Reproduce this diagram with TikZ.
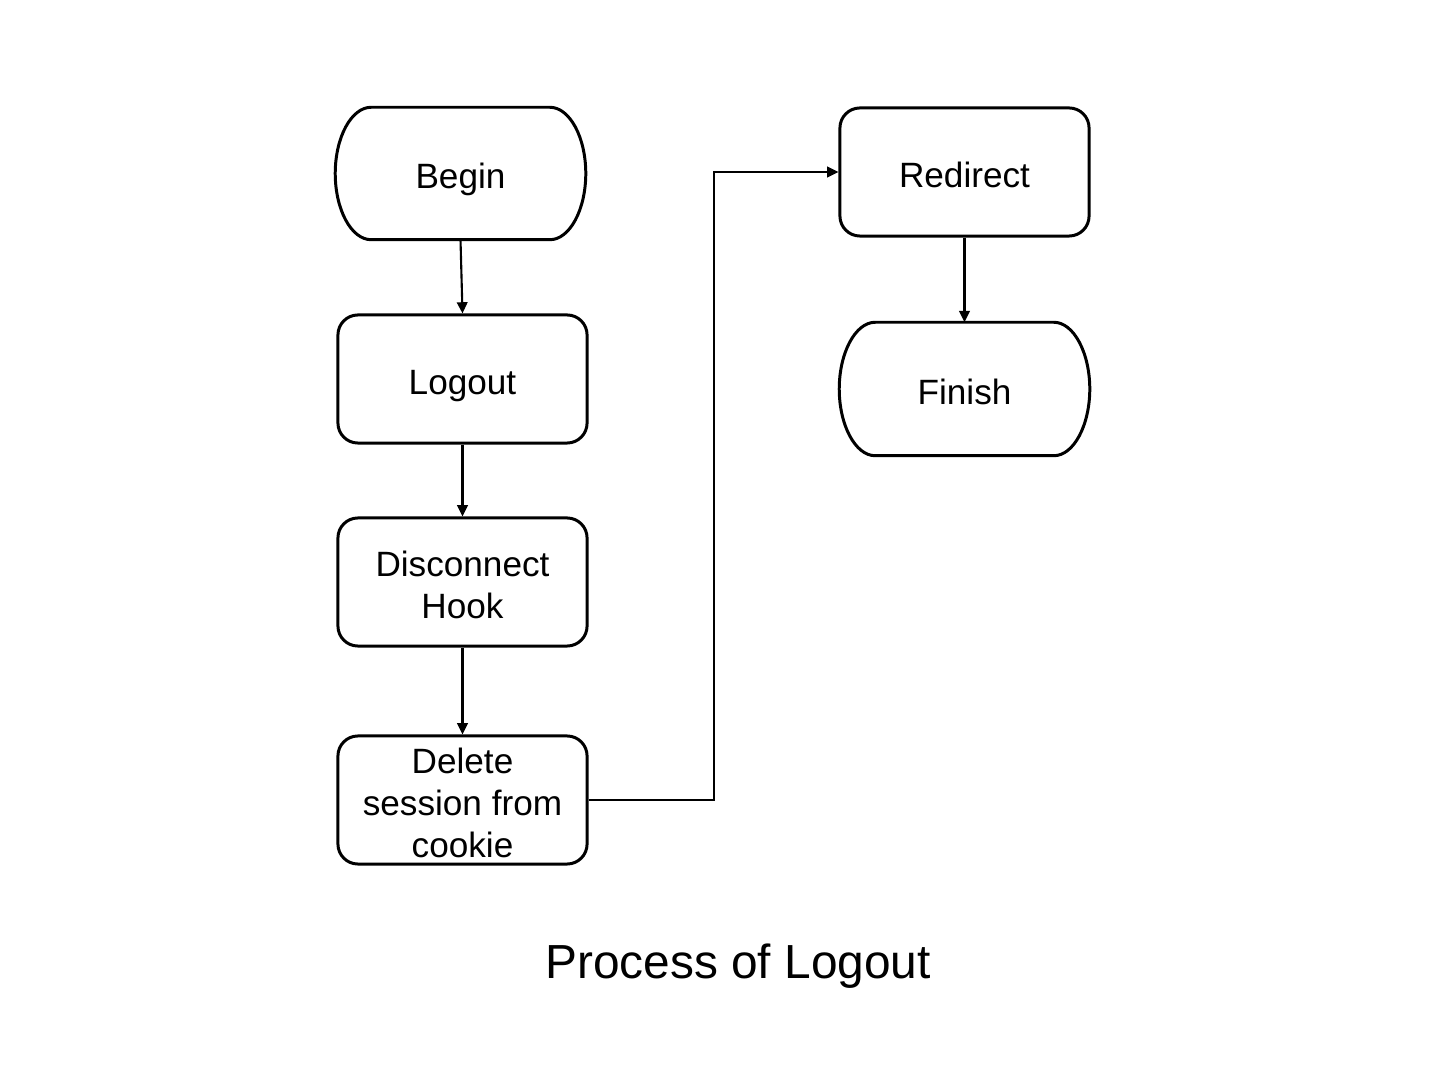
\documentclass[tikz,border=0pt]{standalone}
\usepackage{fontspec}
\setmainfont{Liberation Sans}
\usetikzlibrary{arrows.meta}
\newcommand\boxtext[1]{\raisebox{-2pt}[\height][\depth]{\begin{tabular}{@{}c@{}}#1\end{tabular}}}
\begin{document}
\begin{tikzpicture}[x=0.01cm,y=-0.01cm,
  box/.style={draw,line width=0.85pt,rounded corners=0.2cm,minimum width=2.49cm,minimum height=1.28cm,inner sep=0pt,font=\fontsize{10}{12}\selectfont},
  term/.style={minimum width=2.49cm,inner sep=0pt,font=\fontsize{10}{12}\selectfont},
  conn/.style={line width=0.6pt,-{Triangle[length=3.2pt,width=3pt]}}]
\useasboundingbox (0,0) rectangle (1440,1080);
% terminals
\node[term,minimum height=1.31cm] (begin) at (460.5,173.5) {\boxtext{Begin}};
\node[term,minimum height=1.32cm] (finish) at (964.5,389) {\boxtext{Finish}};
\foreach \n in {begin,finish}{
  \draw[line width=0.85pt] ([xshift=0.36cm]\n.north west) -- ([xshift=-0.36cm]\n.north east)
    .. controls ([xshift=-0.16cm]\n.north east) and ([yshift=0.36cm]\n.east) .. (\n.east)
    .. controls ([yshift=-0.36cm]\n.east) and ([xshift=-0.16cm]\n.south east) .. ([xshift=-0.36cm]\n.south east)
    -- ([xshift=0.36cm]\n.south west)
    .. controls ([xshift=0.16cm]\n.south west) and ([yshift=-0.36cm]\n.west) .. (\n.west)
    .. controls ([yshift=0.36cm]\n.west) and ([xshift=0.16cm]\n.north west) .. cycle;
}
\node[box] (logout) at (462.5,379) {\boxtext{Logout}};
\node[box] (disc) at (462.5,582) {\boxtext{Disconnect\\Hook}};
\node[box] (del) at (462.5,800) {\boxtext{Delete\\session from\\cookie}};
\node[box] (redir) at (964.5,172) {\boxtext{Redirect}};
\node (title) at (738,966) {\fontsize{13.6}{16}\selectfont Process of Logout};
\coordinate (bend1) at (714,800);
\coordinate (bend2) at (714,172);
\draw[conn] (begin.south) -- (logout.north);
\draw[conn] (logout) -- (disc);
\draw[conn] (disc) -- (del);
\draw[conn] (del.east) -- (bend1) -- (bend2) -- (redir.west);
\draw[conn] (redir) -- (finish);
\end{tikzpicture}
\end{document}
